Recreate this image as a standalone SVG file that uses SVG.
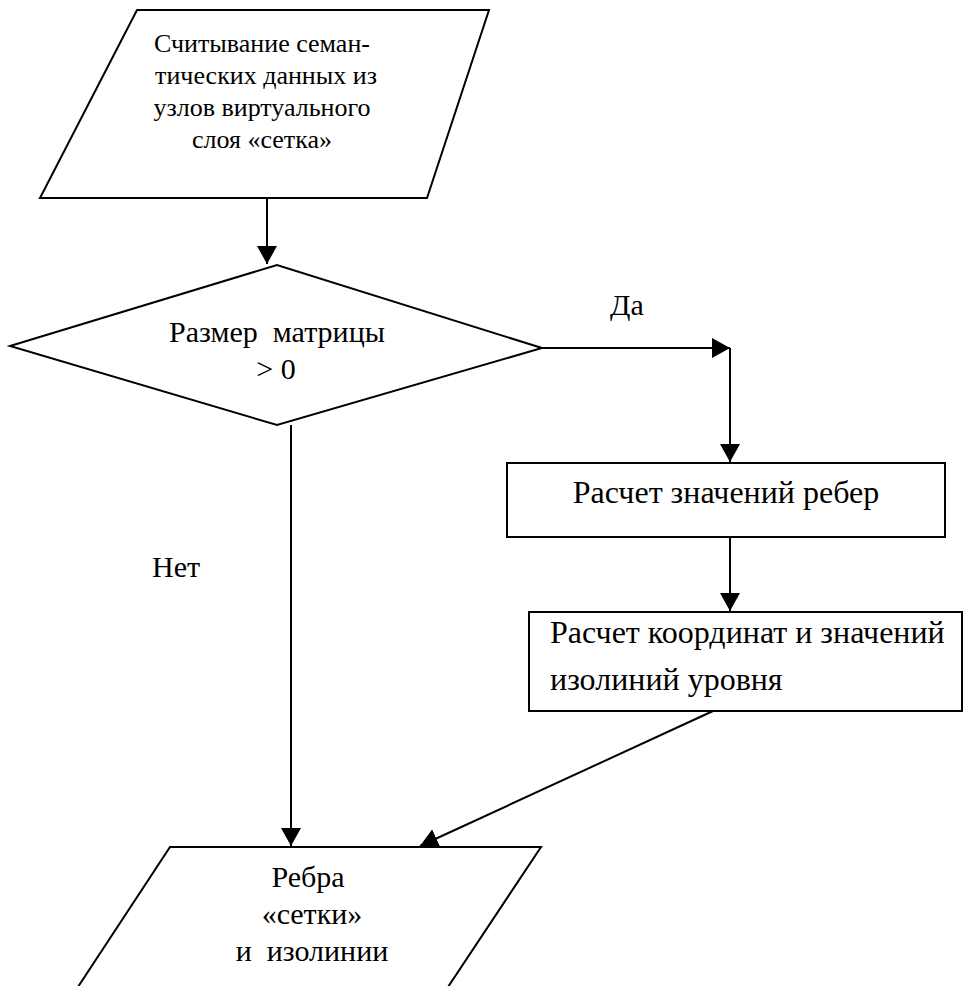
<svg xmlns="http://www.w3.org/2000/svg" width="964" height="986" viewBox="0 0 964 986">
  <style>
    .shape { fill: #ffffff; stroke: #000000; stroke-width: 2; }
    .conn { fill: none; stroke: #000000; stroke-width: 2; }
    text { font-family: "Liberation Serif", "Times New Roman", serif; fill: #000000; white-space: pre; }
    .t26 { font-size: 26px; }
    .t30 { font-size: 30px; }
    .t32 { font-size: 32px; }
    .c { text-anchor: middle; }
  </style>
  <defs>
    <marker id="arrow" viewBox="0 0 18 20" refX="18" refY="10" markerWidth="18" markerHeight="20" markerUnits="userSpaceOnUse" orient="auto">
      <path d="M0,0 L18,10 L0,20 z" fill="#000000"/>
    </marker>
  </defs>
  <rect x="0" y="0" width="964" height="986" fill="#ffffff"/>

  <g id="connectors">
    <line class="conn" x1="267" y1="198" x2="267" y2="264" marker-end="url(#arrow)"/>
    <line class="conn" x1="542" y1="348" x2="730" y2="348" marker-end="url(#arrow)"/>
    <line class="conn" x1="730" y1="348" x2="730" y2="462" marker-end="url(#arrow)"/>
    <line class="conn" x1="730" y1="537" x2="730" y2="611" marker-end="url(#arrow)"/>
    <line class="conn" x1="291" y1="425" x2="291" y2="846" marker-end="url(#arrow)"/>
    <line class="conn" x1="713" y1="711" x2="420" y2="846" marker-end="url(#arrow)"/>
    <text class="t30" x="610" y="315">Да</text>
    <text class="t30" x="152" y="577">Нет</text>
  </g>

  <g id="node-input">
    <polygon class="shape" points="137,10 489,10 427,198 40,198"/>
    <text class="t26 c" x="262" y="52">Считывание семан-</text>
    <text class="t26 c" x="266" y="84">тических данных из</text>
    <text class="t26 c" x="262" y="116">узлов виртуального</text>
    <text class="t26 c" x="262" y="148">слоя «сетка»</text>
  </g>

  <g id="node-decision">
    <polygon class="shape" points="10,346 277,265 542,348 277,425"/>
    <text class="t30 c" x="277" y="342">Размер  матрицы</text>
    <text class="t30 c" x="276" y="379">&gt; 0</text>
  </g>

  <g id="node-edges">
    <rect class="shape" x="507" y="463" width="438" height="74"/>
    <text class="t32 c" x="726" y="503">Расчет значений ребер</text>
  </g>

  <g id="node-isolines">
    <rect class="shape" x="529" y="612" width="433" height="99"/>
    <text class="t32" x="550" y="643">Расчет координат и значений</text>
    <text class="t32" x="550" y="690">изолиний уровня</text>
  </g>

  <g id="node-output">
    <polygon class="shape" points="170,847 541,847 442,996 72,996"/>
    <text class="t30 c" x="308" y="887">Ребра</text>
    <text class="t30 c" x="312" y="924">«сетки»</text>
    <text class="t30 c" x="312" y="961">и  изолинии</text>
  </g>
</svg>
